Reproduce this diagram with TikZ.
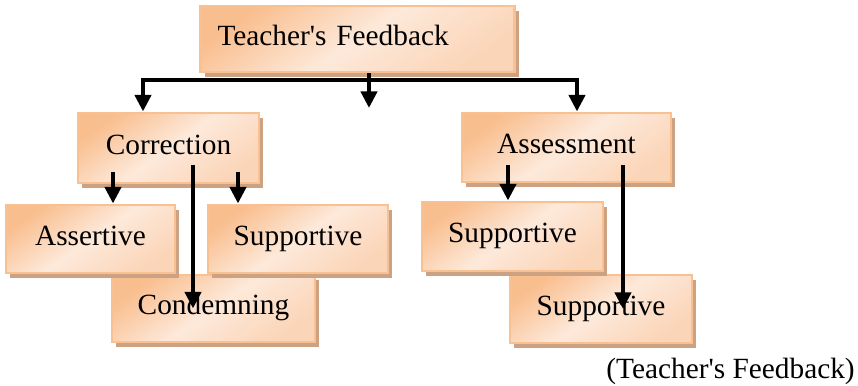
\documentclass[tikz,border=0pt]{standalone}
\usepackage{fontspec}
\setmainfont{Liberation Serif}
\usetikzlibrary{arrows.meta,shadows}
\definecolor{fbedge}{HTML}{F9C091}
\definecolor{fbshade}{HTML}{CDA283}
\definecolor{fbtop}{HTML}{F9BE8E}
\definecolor{fbmid}{HTML}{FDE9DA}
\definecolor{fbbot}{HTML}{FBD5B8}
\begin{document}
\begin{tikzpicture}[x=0.75pt, y=-0.75pt,
    fb/.style={draw=fbedge, line width=2.2pt, top color=fbtop, bottom color=fbbot,
      middle color=fbmid, shading angle=35,
      general shadow={fill=fbshade, shadow xshift=3pt, shadow yshift=-3.5pt},
      font=\fontsize{22}{26}\selectfont, text height=15pt, text depth=6pt, inner sep=0pt},
    arr/.style={line width=3.7pt, -{Triangle[width=12pt,length=12.5pt]}},
    arr2/.style={line width=3.7pt, {Triangle[width=12pt,length=12.5pt]}-{Triangle[width=12pt,length=12.5pt]}}]
    \useasboundingbox (0,0) rectangle (858,386);

    \node[fb, text width=210pt, align=left, inner xsep=12.75pt, minimum height=49.5pt] (top) at (357.5,39) {Teacher\textquotesingle s Feedback};
    \node[fb, minimum width=135.75pt, minimum height=52.5pt] (corr) at (168.5,148) {Correction};
    \node[fb, minimum width=156.75pt, minimum height=51.75pt] (asmt) at (566.5,147.5) {Assessment};

    \node[fb, minimum width=152.25pt, minimum height=50.25pt] (cond) at (213.5,308.5) {Condemning};
    \node[fb, minimum width=126.75pt, minimum height=51pt] (asrt) at (90.5,239) {Assertive};
    \node[fb, minimum width=135pt, minimum height=51pt] (supl) at (298,239) {Supportive};

    \node[fb, minimum width=136.5pt, minimum height=51pt] (supb) at (601,309) {Supportive};
    \node[fb, minimum width=135.75pt, minimum height=51.75pt] (supa) at (512.5,236.5) {Supportive};

    \node[font=\fontsize{22}{26}\selectfont, anchor=base east, inner sep=0pt] (cap) at (855,378) {(Teacher\textquotesingle s Feedback)};

    % split under the top box
    \coordinate (mid) at (369,108);
    \coordinate (jl) at (143,80);
    \coordinate (jr) at (577,80);
    \draw[arr] (top.south -| mid) -- (mid);
    \draw[arr2] (jl |- corr.north) -- (jl) -- (jr) -- (jr |- asmt.north);

    \coordinate (c1) at (113,172);
    \coordinate (c2) at (238,172);
    \coordinate (c3) at (193,165);
    \draw[arr] (c1) -- (c1 |- asrt.north);
    \draw[arr] (c2) -- (c2 |- supl.north);
    \draw[arr] (c3) -- (c3 |- cond.center);

    \coordinate (a1) at (508,165);
    \coordinate (a2) at (623,165);
    \draw[arr] (a1) -- (a1 |- supa.north);
    \draw[arr] (a2) -- (a2 |- supb.center);
\end{tikzpicture}
\end{document}
